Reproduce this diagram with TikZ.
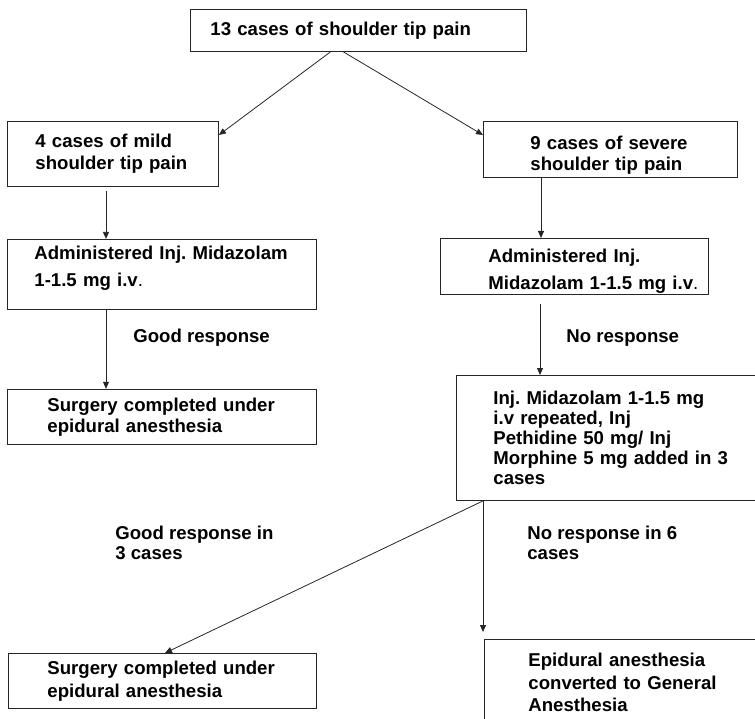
\documentclass[tikz,border=0pt]{standalone}
\usepackage{fontspec}
\setmainfont{Liberation Sans}
\usetikzlibrary{positioning, arrows.meta}
\tikzset{
->, % every connector is directed
>={Triangle[length=7pt,width=6pt]}, % small filled heads
every node/.style={font=\bfseries\frenchspacing\fontsize{18.6pt}{22pt}\selectfont},
linesep/.style={font=\bfseries\frenchspacing\fontsize{18.6pt}{#1}\selectfont}, % line spacing of a box
box/.style={draw=black!85, line width=0.9pt, align=left, anchor=north west, inner ysep=0pt}, % the framed steps
lbl/.style={inner sep=0pt, align=left, anchor=west}, % texts beside the connectors
}
\begin{document}
\begin{tikzpicture}[line width=0.8pt, draw=black!85]
\useasboundingbox (0,0) rectangle (755pt,-719pt);
\clip (0,0) rectangle (755pt,-719pt);

\node[box, text width=296pt, inner xsep=20pt, minimum height=42pt] (pain) at (190pt,-9pt) {13 cases of shoulder tip pain};

\node[box, text width=155pt, inner xsep=28pt, minimum height=65pt] (mild) at (7pt,-121pt) {4 cases of mild\\shoulder tip pain};
\node[box, linesep=21pt, text width=160pt, inner xsep=47pt, minimum height=56pt] (severe) at (483pt,-121pt) {\rule{0pt}{25.5pt}9 cases of severe\\shoulder tip pain};

\node[box, linesep=27pt, text width=255pt, inner xsep=27pt, minimum height=70pt, below=52pt of mild.south west, anchor=north west] (adminL) {\mbox{Administered Inj. Midazolam}\\1-1.5 mg i.v{\mdseries .}\rule[-16pt]{0pt}{0pt}};
\node[box, linesep=27pt, text width=172pt, inner xsep=48pt, minimum height=56pt] (adminR) at (440pt,-238pt) {\rule{0pt}{23.5pt}Administered Inj.\\\mbox{Midazolam 1-1.5 mg i.v{\mdseries .}}};

\node[box, linesep=21pt, text width=229pt, inner xsep=40pt, minimum height=55pt, below=79pt of adminL.south west, anchor=north west] (surgL) {\mbox{Surgery completed under}\\epidural anesthesia};
\node[box, linesep=20pt, text width=231pt, inner xsep=37pt, minimum height=125pt] (repeat) at (456pt,-375pt) {\mbox{Inj. Midazolam 1-1.5 mg}\\i.v repeated, Inj\\Pethidine 50 mg/ Inj\\\mbox{Morphine 5 mg added in 3}\\cases};

\node[box, linesep=23pt, text width=230pt, inner xsep=39pt, minimum height=55pt] (surgEnd) at (8pt,-653pt) {\mbox{Surgery completed under}\\epidural anesthesia};
\node[box, linesep=22.5pt, text width=202pt, inner xsep=44pt, minimum height=86pt] (general) at (484pt,-639pt) {Epidural anesthesia\\\mbox{converted to General}\\Anesthesia};

\node[lbl] (goodL) at (133pt,-338pt) {Good response};
\node[lbl] (noneR) at (566pt,-338pt) {No response};
\node[lbl, linesep=20pt] (goodThree) at (115pt,-543pt) {Good response in\\3 cases};
\node[lbl, linesep=20pt] (noneSix) at (527pt,-543pt) {No response in 6\\cases};

\draw ([xshift=-28pt]pain.south) -- ([yshift=-14pt]mild.north east);
\draw ([xshift=-15pt]pain.south) -- ([yshift=-14pt]severe.north west);
\draw ([xshift=99pt,yshift=-4pt]mild.south west) -- ([xshift=99pt]adminL.north west);
\draw ([xshift=99pt]adminL.south west) -- ([xshift=99pt]surgL.north west);
\draw ([xshift=58pt]severe.south west) -- ([xshift=101pt]adminR.north west);
\draw ([xshift=100pt,yshift=-9pt]adminR.south west) -- ([xshift=84pt]repeat.north west);
\draw ([xshift=27pt]repeat.south west) -- ([xshift=157pt]surgEnd.north west);
\draw ([xshift=27pt]repeat.south west) -- ([xshift=-1pt,yshift=7pt]general.north west);
\end{tikzpicture}
\end{document}
